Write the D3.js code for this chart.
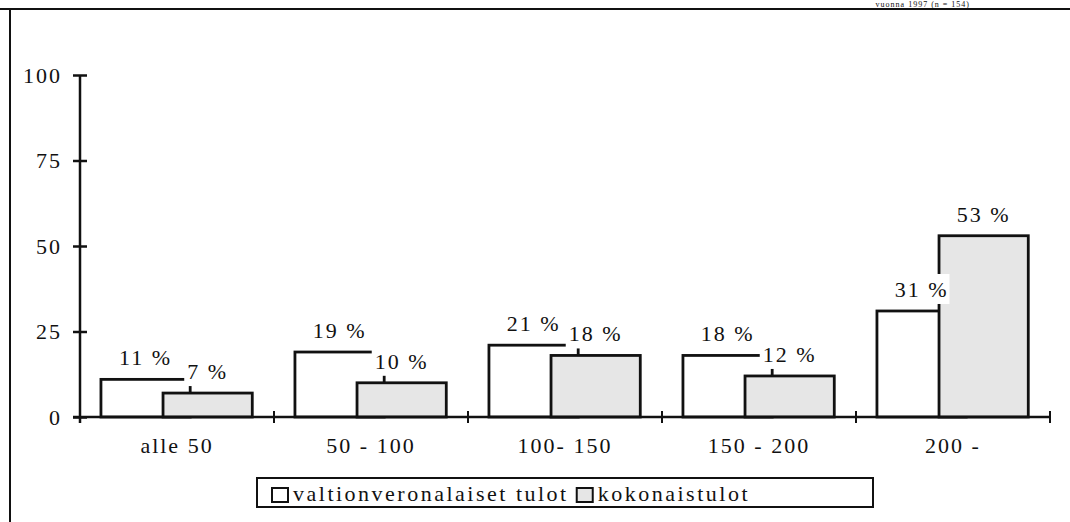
<!doctype html>
<html>
<head>
<meta charset="utf-8">
<script src="https://cdn.jsdelivr.net/npm/d3@7"></script>
<style>
  body { margin: 0; background: #fff; }
  svg text { font-family: "Liberation Serif", "Times New Roman", Times, serif !important; font-size: 22px; letter-spacing: 2px; fill: #111; }
  .bar { stroke: #111; stroke-width: 2.8; }
  .white { fill: #fff; }
  .gray { fill: #e6e6e6; }
  .legend text { letter-spacing: 2.5px; }
</style>
</head>
<body>
<script>
  var categories = ['alle 50', '50 - 100', '100- 150', '150 - 200', '200 -'];
  var valtion = [11, 19, 21, 18, 31];
  var kokonais = [7, 10, 18, 12, 53];
  var seriesNames = ['valtionveronalaiset tulot', 'kokonaistulot'];
  var yTicks = [0, 25, 50, 75, 100];
  var titleText = 'vuonna 1997 (n = 154)';

  var W = 1070, H = 522;
  var svg = d3.select('body').append('svg')
      .attr('width', W)
      .attr('height', H)
      .attr('font-family', 'Liberation Serif, serif');

  // frame (top + left, the rest is cut off in the scan)
  svg.append('line').attr('x1', 0).attr('x2', W).attr('y1', 9).attr('y2', 9)
      .attr('stroke', '#111').attr('stroke-width', 2);
  svg.append('line').attr('x1', 10).attr('x2', 10).attr('y1', 9).attr('y2', H)
      .attr('stroke', '#111').attr('stroke-width', 2);

  // title, squeezed into the strip above the frame
  svg.append('text').attr('x', 970).attr('y', 7)
      .attr('text-anchor', 'end')
      .style('font-size', '8px').style('letter-spacing', '1px')
      .text(titleText);

  var x = d3.scaleBand().domain(categories).range([80, 1050]);
  var y = d3.scaleLinear().domain([0, 100]).range([417, 75]);
  var bw = x.bandwidth();

  var rows = categories.map(function(c, i) {
      return {cat: c, a: valtion[i], b: kokonais[i]};
  });

  // y axis
  var yAxis = svg.append('g')
      .attr('transform', 'translate(80,0)')
      .call(d3.axisLeft(y).tickValues(yTicks).tickSize(7).tickPadding(11));
  yAxis.attr('font-family', null).attr('font-size', null);
  yAxis.select('.domain').remove();
  yAxis.selectAll('.tick line').attr('x1', -7).attr('x2', 7)
      .attr('stroke', '#111').attr('stroke-width', 2.5);
  svg.append('line').attr('x1', 80).attr('x2', 80).attr('y1', y(100)).attr('y2', y(0) + 6)
      .attr('stroke', '#111').attr('stroke-width', 2.5);

  // bars
  var groups = svg.selectAll('g.cat').data(rows).enter().append('g')
      .attr('class', 'cat')
      .attr('transform', function(d) { return 'translate(' + x(d.cat) + ',0)'; });

  groups.append('rect')
      .attr('class', 'bar white')
      .attr('x', bw * 0.108)
      .attr('width', bw * 0.46)
      .attr('y', function(d) { return y(d.a); })
      .attr('height', function(d) { return y(0) - y(d.a); });

  groups.append('rect')
      .attr('class', 'bar gray')
      .attr('x', bw * 0.428)
      .attr('width', bw * 0.46)
      .attr('y', function(d) { return y(d.b); })
      .attr('height', function(d) { return y(0) - y(d.b); });

  // x axis
  svg.append('line').attr('x1', 73).attr('x2', 1050).attr('y1', y(0)).attr('y2', y(0))
      .attr('stroke', '#111').attr('stroke-width', 2.5);
  var edges = categories.map(function(c) { return x(c); }).concat([x.range()[1]]);
  svg.selectAll('line.xtick').data(edges).enter().append('line')
      .attr('class', 'xtick')
      .attr('x1', function(d) { return d; }).attr('x2', function(d) { return d; })
      .attr('y1', y(0) - 6).attr('y2', y(0) + 6)
      .attr('stroke', '#111').attr('stroke-width', 2);

  var xAxis = svg.append('g')
      .attr('transform', 'translate(0,' + y(0) + ')')
      .call(d3.axisBottom(x).tickSize(0).tickPadding(20));
  xAxis.attr('font-family', null).attr('font-size', null);
  xAxis.select('.domain').remove();

  // data labels with white boxes
  var labels = [];
  rows.forEach(function(d) {
      labels.push({cx: x(d.cat) + bw * (0.108 + 0.23), v: d.a});
      labels.push({cx: x(d.cat) + bw * (0.428 + 0.23), v: d.b});
  });
  var lab = svg.selectAll('g.lab').data(labels).enter().append('g').attr('class', 'lab');
  var boxes = lab.append('rect').attr('fill', '#fff');
  var texts = lab.append('text')
      .attr('x', function(d) { return d.cx; })
      .attr('y', function(d) { return y(d.v) - 14; })
      .attr('text-anchor', 'middle')
      .text(function(d) { return d.v + ' %'; });
  texts.each(function(d) {
      var b = this.getBBox();
      d.bx = b.x - 3; d.bw = b.width + 4;
  });
  boxes.attr('x', function(d) { return d.bx; })
      .attr('width', function(d) { return d.bw; })
      .attr('y', function(d) { return y(d.v) - 37; })
      .attr('height', 30);

  // legend
  var leg = svg.append('g').attr('class', 'legend');
  leg.append('rect').attr('x', 257).attr('y', 478).attr('width', 616).attr('height', 29)
      .attr('fill', '#fff').attr('stroke', '#111').attr('stroke-width', 2);
  var lx = 272;
  seriesNames.forEach(function(name, i) {
      leg.append('rect').attr('x', lx).attr('y', 488).attr('width', 16).attr('height', 14)
          .attr('fill', i === 0 ? '#fff' : '#e6e6e6')
          .attr('stroke', '#111').attr('stroke-width', 2);
      var t = leg.append('text').attr('x', lx + 21).attr('y', 501).text(name);
      lx = lx + 21 + t.node().getComputedTextLength() + 8;
  });
</script>
</body>
</html>
